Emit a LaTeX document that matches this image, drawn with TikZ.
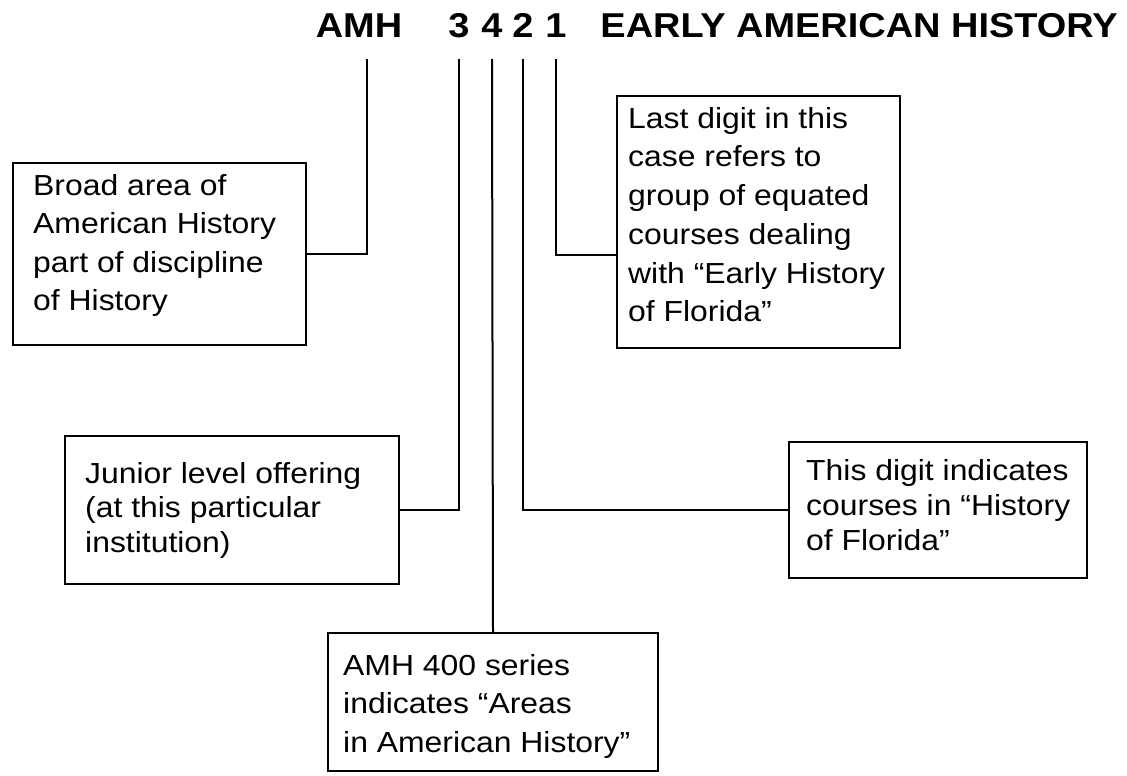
\documentclass[tikz,border=0pt]{standalone}
\usepackage{fontspec}
\setmainfont{Liberation Sans}[FakeStretch=1.1]
\usetikzlibrary{positioning}
\newcommand\btext[2]{\parbox[t]{340pt}{\raggedright\fontsize{29}{#1}\selectfont #2}}
\tikzset{
  box/.style={draw, line width=2pt, anchor=north west, inner sep=0pt},
  txt/.style={anchor=base west, inner sep=0pt},
  head/.style={anchor=base, inner sep=0pt, font=\fontsize{34.5}{36}\selectfont\bfseries},
  conn/.style={line width=2pt}
}
\begin{document}
\begin{tikzpicture}[x=1pt,y=-1pt]
\fill[white] (0,0) rectangle (1127,776);
\useasboundingbox (0,0) rectangle (1127,776);
% heading
\node[head] (amh) at (359,38) {AMH};
\node[head] (d3) at (459,38) {3};
\node[head] (d4) at (492,38) {4};
\node[head] (d2) at (523,38) {2};
\node[head] (d1) at (556,38) {1};
\node[head, anchor=base east] (title) at (1118,38) {EARLY AMERICAN HISTORY};
% boxes
\node[box, minimum width=293pt, minimum height=182pt] (b1) at (12,162) {};
\node[box, minimum width=283pt, minimum height=252pt] (blast) at (616,95) {};
\node[box, minimum width=334pt, minimum height=148pt] (bjun) at (64,435) {};
\node[box, minimum width=298pt, minimum height=136pt] (bthis) at (788,441) {};
\node[box, minimum width=330pt, minimum height=138pt] (b400) at (327,632) {};
% texts
\node[txt] (t1) at (33,195) {\btext{38.5}{Broad area of\\American History\\part of discipline\\of History}};
\node[txt] (tlast) at (628,128) {\btext{38.8}{Last digit in this\\case refers to\\group of equated\\courses dealing\\with “Early History\\of Florida”}};
\node[txt] (tjun) at (85,483) {\btext{34.5}{Junior level offering\\(at this particular\\institution)}};
\node[txt] (tthis) at (806,480) {\btext{35}{This digit indicates\\courses in “History\\of Florida”}};
\node[txt] (t400) at (343,675) {\btext{38.5}{AMH 400 series\\indicates “Areas\\in American History”}};
% connectors
\draw[conn] ([xshift=8pt,yshift=-21pt]amh.base) |- (b1.east);
\draw[conn] ([yshift=-21pt]d3.base) |- (bjun.east);
\draw[conn] ([yshift=-21pt]d4.base) -- (b400.north);
\draw[conn] ([yshift=-21pt]d2.base) |- (bthis.west);
\draw[conn] ([yshift=-21pt]d1.base) |- ([yshift=-33pt]blast.west);
\end{tikzpicture}
\end{document}
